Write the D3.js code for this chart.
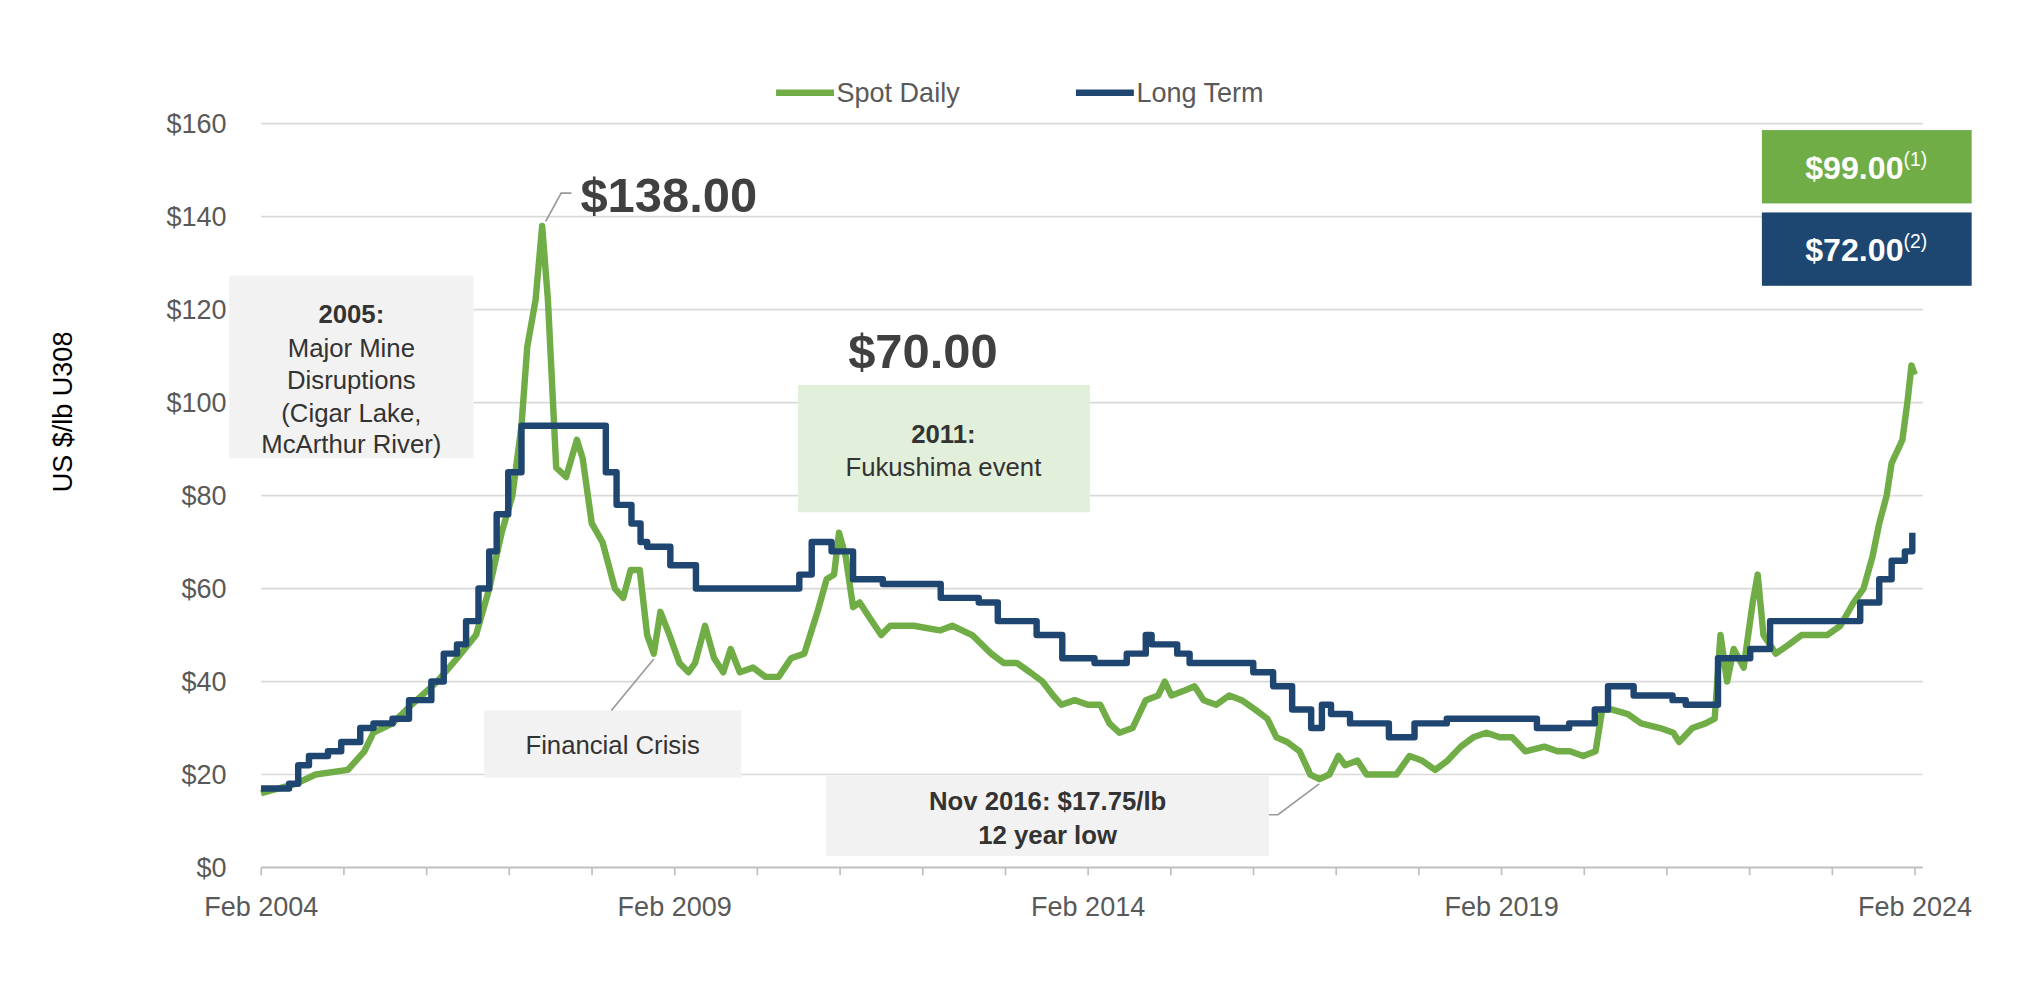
<!DOCTYPE html>
<html><head><meta charset="utf-8">
<script src="https://cdn.jsdelivr.net/npm/d3@7"></script>
<style>
body{margin:0;background:#fff;font-family:"Liberation Sans",Arial,sans-serif;}
</style></head>
<body><svg id="chart" width="2018" height="986" viewBox="0 0 1568 766" style="display:block"></svg>
<script>
// spot price, decimal years
const spotYears = [2004.08,2004.50,2004.74,2005.13,2005.33,2005.44,2005.67,2005.90,2006.21,2006.45,2006.68,2006.84,2006.99,2007.12,2007.23,2007.30,2007.40,2007.48,2007.55,2007.65,2007.77,2007.90,2007.97,2008.08,2008.21,2008.36,2008.46,2008.55,2008.66,2008.75,2008.83,2008.91,2009.02,2009.14,2009.25,2009.33,2009.45,2009.56,2009.67,2009.76,2009.87,2010.03,2010.18,2010.34,2010.49,2010.65,2010.81,2010.92,2011.01,2011.07,2011.15,2011.24,2011.32,2011.43,2011.58,2011.69,2011.97,2012.29,2012.44,2012.68,2012.91,2013.06,2013.22,2013.38,2013.53,2013.66,2013.76,2013.92,2014.08,2014.23,2014.34,2014.46,2014.62,2014.78,2014.93,2015.01,2015.09,2015.24,2015.37,2015.48,2015.63,2015.79,2015.94,2016.10,2016.25,2016.36,2016.49,2016.64,2016.77,2016.88,2017.00,2017.11,2017.19,2017.34,2017.45,2017.61,2017.81,2017.97,2018.12,2018.28,2018.43,2018.59,2018.74,2018.90,2019.06,2019.21,2019.37,2019.60,2019.76,2019.91,2020.07,2020.22,2020.30,2020.41,2020.61,2020.77,2021.00,2021.16,2021.23,2021.39,2021.55,2021.66,2021.73,2021.81,2021.89,2022.01,2022.12,2022.18,2022.25,2022.40,2022.56,2022.71,2022.87,2023.02,2023.18,2023.34,2023.46,2023.57,2023.65,2023.74,2023.80,2023.93,2023.99,2024.04,2024.08];
const spotValues = [16,18,20,21,25,29,31,35,40,45,50,60,72,80,95,112,122,138,122,86,84,92,88,74,70,60,58,64,64,50,46,55,50,44,42,44,52,45,42,47,42,43,41,41,45,46,55,62,63,72,67,56,57,54,50,52,52,51,52,50,46,44,44,42,40,37,35,36,35,35,31,29,30,36,37,40,37,38,39,36,35,37,36,34,32,28,27,25,20,19,20,24,22,23,20,20,20,24,23,21,23,26,28,29,28,28,25,26,25,25,24,25,34,34,33,31,30,29,27,30,31,32,50,40,47,43,57,63,50,46,48,50,50,50,52,57,60,67,74,80,87,92,100,108,106];
// long term price, step series
const ltYears = [2004.08,2004.42,2004.53,2004.66,2004.89,2005.05,2005.28,2005.44,2005.67,2005.87,2006.14,2006.29,2006.45,2006.56,2006.71,2006.84,2006.93,2007.07,2007.23,2008.25,2008.38,2008.56,2008.67,2008.75,2009.03,2009.34,2009.81,2010.59,2010.74,2010.98,2011.24,2011.60,2011.83,2012.30,2012.76,2012.99,2013.46,2013.77,2014.16,2014.55,2014.78,2014.85,2015.16,2015.31,2015.62,2016.08,2016.32,2016.55,2016.78,2016.91,2017.02,2017.25,2017.48,2017.72,2018.03,2018.42,2018.73,2019.51,2019.90,2020.21,2020.37,2020.68,2021.15,2021.31,2021.62,2021.70,2022.09,2022.33,2023.18,2023.42,2023.65,2023.80,2023.96,2024.05];
const ltValues = [17,18,22,24,25,27,30,31,32,36,40,46,48,53,60,68,76,85,95,85,78,74,70,69,65,60,60,63,70,68,62,61,61,58,57,53,50,45,44,46,50,48,46,44,44,42,39,34,30,35,33,31,31,28,31,32,32,30,31,34,39,37,36,35,35,45,47,53,53,57,62,66,68,72];
const yTicks = [0,20,40,60,80,100,120,140,160];
const xTickYears = [2004.083,2009.083,2014.083,2019.083,2024.083];
const xTickLabels = ["Feb 2004","Feb 2009","Feb 2014","Feb 2019","Feb 2024"];
const minorYears = d3.range(2004.083,2024.1,1);

const GREEN = "#70ad47", BLUE = "#1f4671", GREY = "#595959";
const svg = d3.select("#chart");
const x = d3.scaleLinear().domain([2004.083,2024.083]).range([203,1488]);
const y = d3.scaleLinear().domain([0,160]).range([674,96]);

// gridlines
svg.append("g").selectAll("line").data(yTicks.slice(1)).join("line")
  .attr("x1",203).attr("x2",1494).attr("y1",d=>y(d)).attr("y2",d=>y(d))
  .attr("stroke","#d9d9d9").attr("stroke-width",1.3);

// y axis labels
svg.append("g").selectAll("text").data(yTicks).join("text")
  .attr("x",176).attr("y",d=>y(d)+7).attr("text-anchor","end")
  .attr("font-size",21).attr("fill",GREY).text(d=>"$"+d);

// x axis
svg.append("line").attr("x1",203).attr("x2",1494).attr("y1",674).attr("y2",674)
  .attr("stroke","#bfbfbf").attr("stroke-width",1.5);
svg.append("g").selectAll("line").data(minorYears).join("line")
  .attr("x1",d=>x(d)).attr("x2",d=>x(d)).attr("y1",674).attr("y2",680)
  .attr("stroke","#bfbfbf").attr("stroke-width",1.3);
svg.append("g").selectAll("text").data(xTickYears).join("text")
  .attr("x",d=>x(d)).attr("y",712).attr("text-anchor","middle")
  .attr("font-size",21).attr("fill",GREY).text((d,i)=>xTickLabels[i]);

svg.append("text").attr("transform","translate(56,320) rotate(-90)")
  .attr("text-anchor","middle").attr("font-size",21).attr("fill","#000").text("US $/lb U308");

// lines
const spot = spotYears.map((d,i)=>[d,spotValues[i]]);
const lt = ltYears.map((d,i)=>[d,ltValues[i]]);
svg.append("path").datum(spot)
  .attr("d",d3.line().x(d=>x(d[0])).y(d=>y(d[1])).curve(d3.curveLinear))
  .attr("fill","none").attr("stroke",GREEN).attr("stroke-width",5).attr("stroke-linejoin","round");
svg.append("path").datum(lt)
  .attr("d",d3.line().x(d=>x(d[0])).y(d=>y(d[1])).curve(d3.curveStepAfter))
  .attr("fill","none").attr("stroke",BLUE).attr("stroke-width",5).attr("stroke-linejoin","round");

// legend
[[603,"Spot Daily",GREEN],[836,"Long Term",BLUE]].forEach(([lx,t,c])=>{
  svg.append("line").attr("x1",lx).attr("x2",lx+45).attr("y1",72).attr("y2",72)
    .attr("stroke",c).attr("stroke-width",5);
  svg.append("text").attr("x",lx+47).attr("y",79).attr("font-size",21).attr("fill",GREY).text(t);
});

// annotation boxes
function box(x0,y0,w,h,fill){svg.append("rect").attr("x",x0).attr("y",y0).attr("width",w).attr("height",h).attr("fill",fill);}
function txt(tx,ty,t,bold,size,fill){svg.append("text").attr("x",tx).attr("y",ty).attr("text-anchor","middle")
  .attr("font-size",size||20).attr("font-weight",bold?"bold":"normal").attr("fill",fill||"#333").text(t);}
function lead(pts){svg.append("polyline").attr("points",pts).attr("fill","none").attr("stroke","#999").attr("stroke-width",1.3);}

box(178,214,190,142,"#f2f2f2");
txt(273,251,"2005:",true); txt(273,277,"Major Mine"); txt(273,302,"Disruptions");
txt(273,328,"(Cigar Lake,"); txt(273,352,"McArthur River)");

box(620,299,227,99,"#e2efda");
txt(733,344,"2011:",true); txt(733,370,"Fukushima event");

box(376,552,200,52,"#f2f2f2");
txt(476,586,"Financial Crisis");
lead("508,512 475,552");

box(642,603,344,62,"#f2f2f2");
txt(814,629,"Nov 2016: $17.75/lb",true); txt(814,656,"12 year low",true);
lead("986,633 993,633 1025,609");

lead("424,172 436,150 444,150");
svg.append("text").attr("x",451).attr("y",165).attr("font-size",38).attr("font-weight","bold").attr("fill","#404040").text("$138.00");
svg.append("text").attr("x",659).attr("y",286).attr("font-size",38).attr("font-weight","bold").attr("fill","#404040").text("$70.00");

// price callouts
function callout(y0,fill,val,note){
  svg.append("rect").attr("x",1369).attr("y",y0).attr("width",163).attr("height",57).attr("fill",fill);
  const t=svg.append("text").attr("x",1450).attr("y",y0+38).attr("text-anchor","middle")
    .attr("fill","#fff").attr("font-weight","bold").attr("font-size",25);
  t.append("tspan").text(val);
  t.append("tspan").attr("dy",-10).attr("font-size",15).attr("font-weight","normal").text(note);
}
callout(101,GREEN,"$99.00","(1)");
callout(165,"#1d4670","$72.00","(2)");
</script></body></html>
